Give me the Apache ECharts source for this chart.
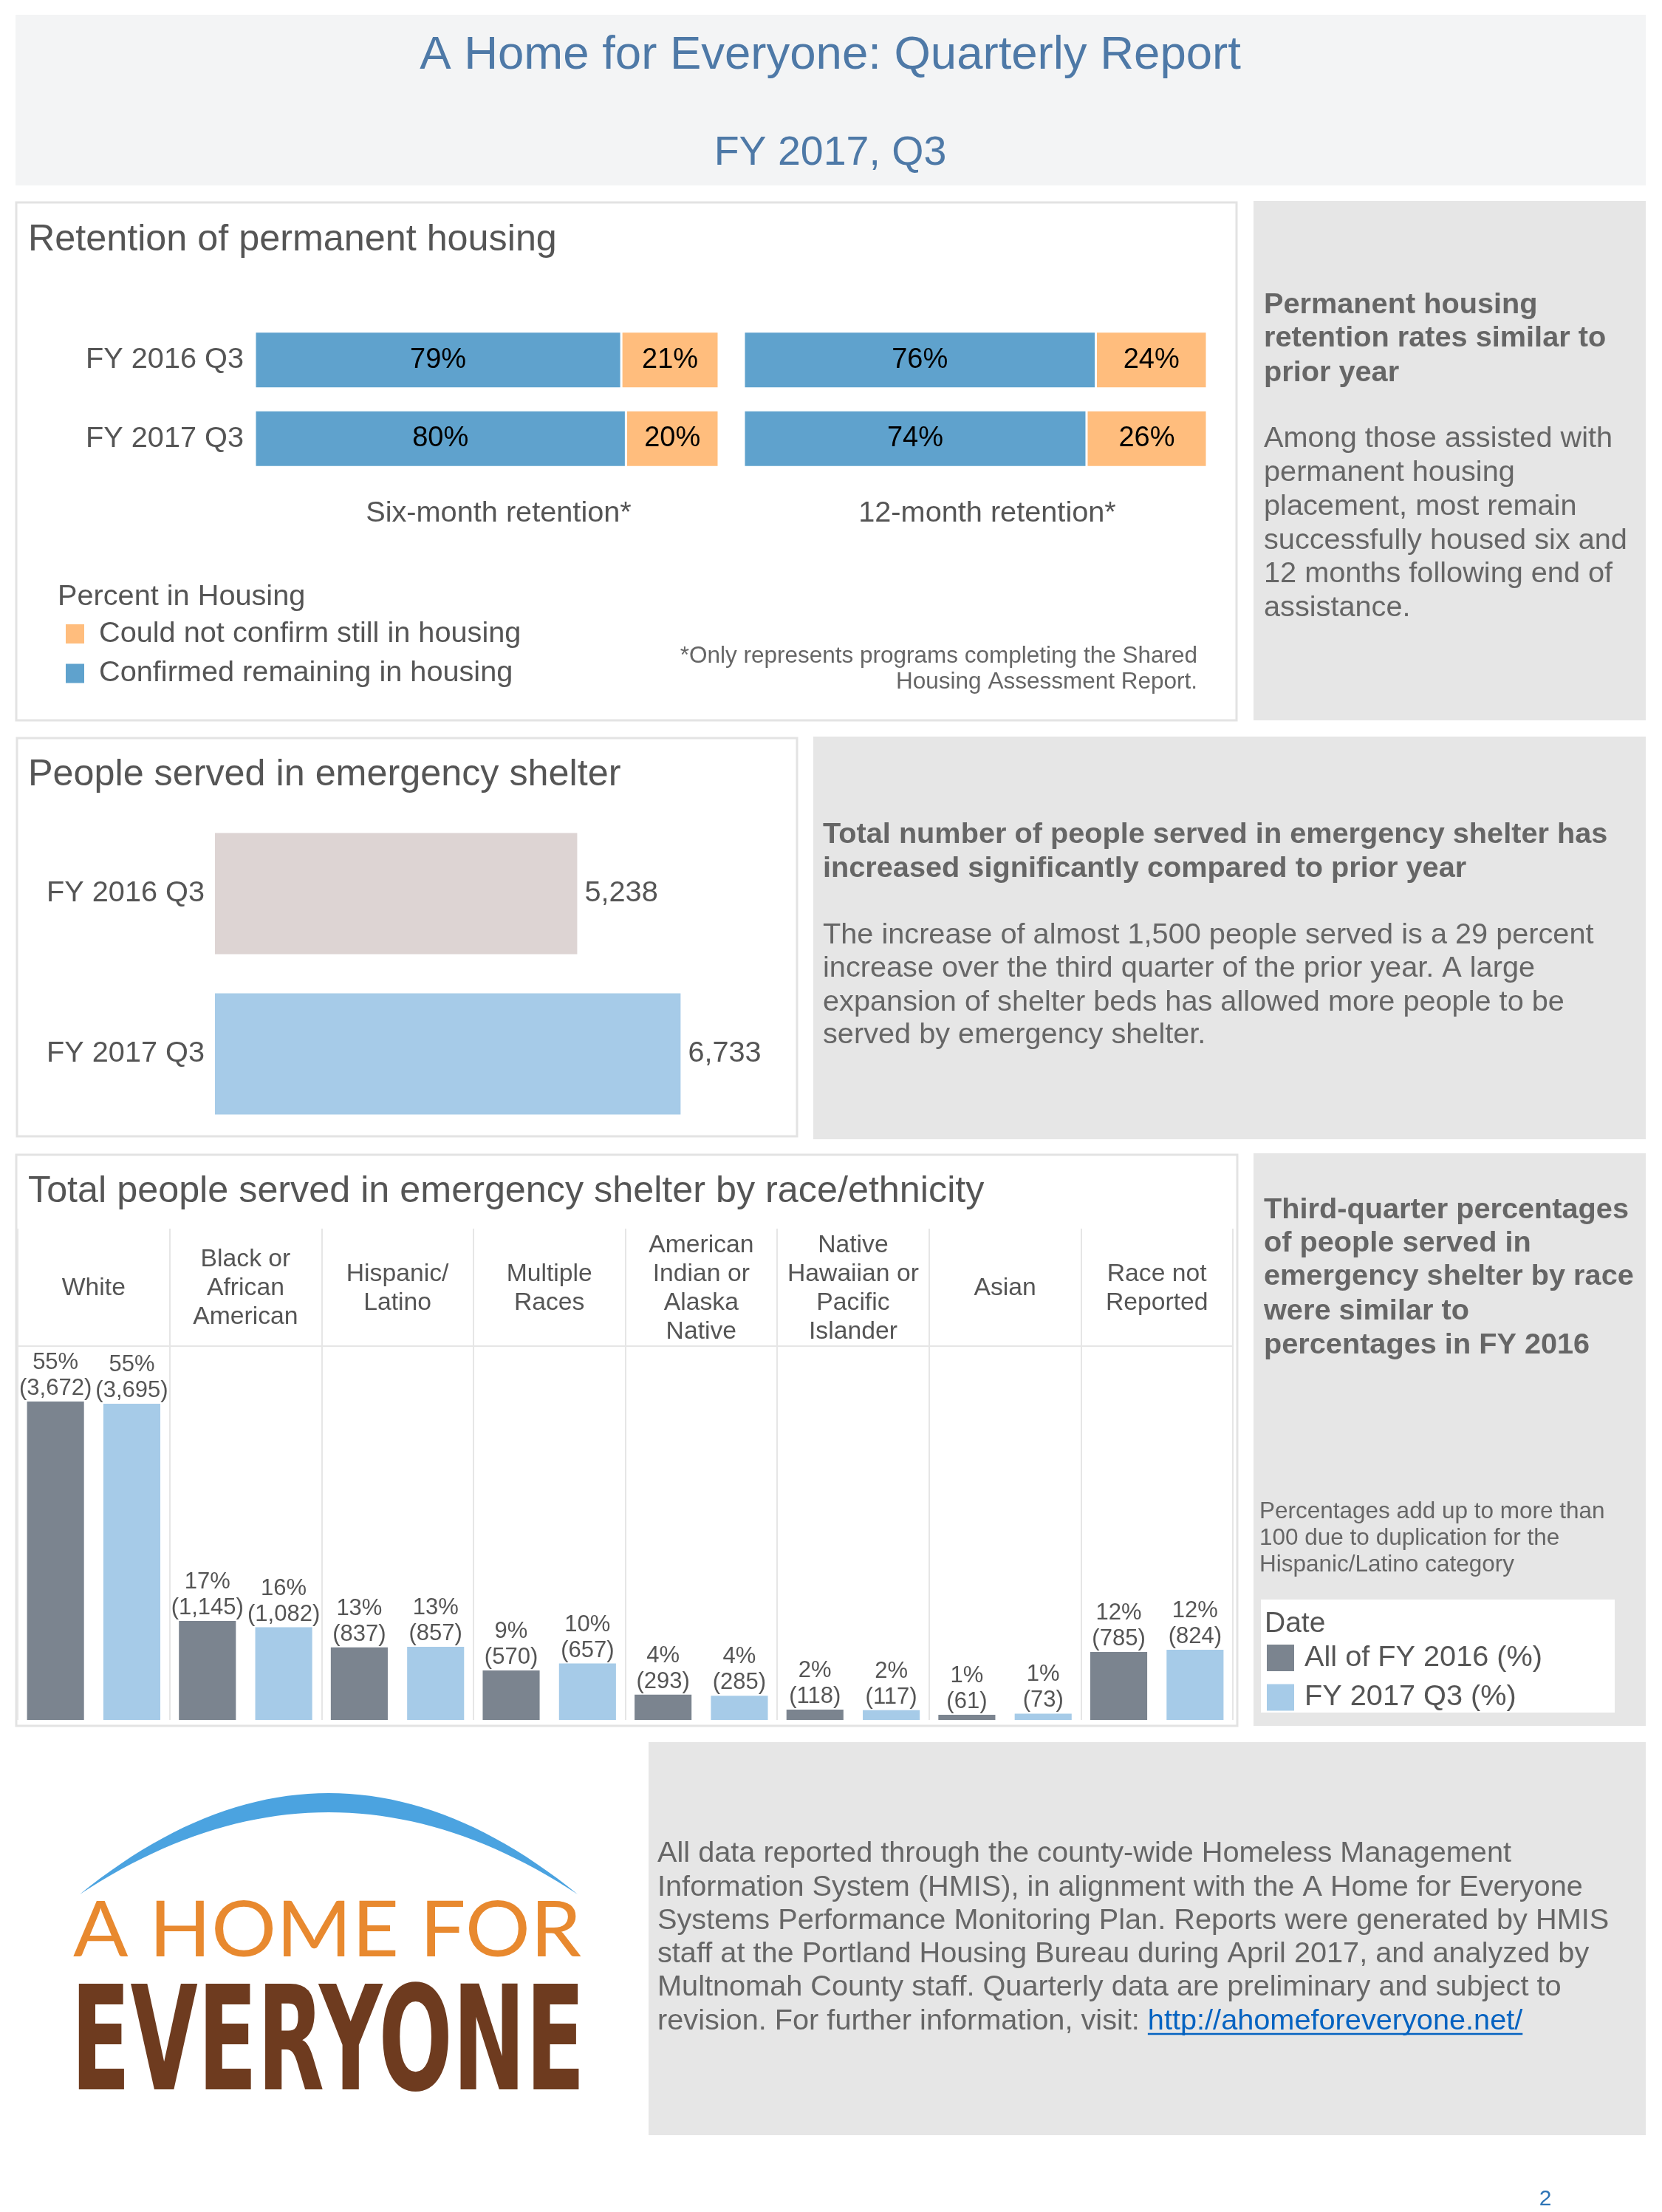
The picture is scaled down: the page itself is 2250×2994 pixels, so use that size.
<!DOCTYPE html>
<html>
<head>
<meta charset="utf-8">
<script src="https://cdn.jsdelivr.net/npm/echarts@6/dist/echarts.min.js"></script>
<style>
html,body{margin:0;padding:0;background:#fff;}
#c{width:2250px;height:2994px;}
</style>
</head>
<body>
<div id="c"></div>
<script>
// ---------- data ----------
const retentionPeriods = ['FY 2016 Q3', 'FY 2017 Q3'];
const sixMonthConfirmed = [79, 80];
const sixMonthNotConfirmed = [21, 20];
const twelveMonthConfirmed = [76, 74];
const twelveMonthNotConfirmed = [24, 26];

const shelterPeriods = ['FY 2016 Q3', 'FY 2017 Q3'];
const shelterServed = [5238, 6733];

const raceCategories = ['White', 'Black or\nAfrican\nAmerican', 'Hispanic/\nLatino', 'Multiple\nRaces',
  'American\nIndian or\nAlaska\nNative', 'Native\nHawaiian or\nPacific\nIslander', 'Asian', 'Race not\nReported'];
const fy2016Pct = [55.3, 17.2, 12.6, 8.6, 4.4, 1.8, 0.9, 11.8];
const fy2017Pct = [54.9, 16.1, 12.7, 9.8, 4.2, 1.7, 1.1, 12.2];
const fy2016Count = [3672, 1145, 837, 570, 293, 118, 61, 785];
const fy2017Count = [3695, 1082, 857, 657, 285, 117, 73, 824];

// ---------- helpers ----------
const FF = '"Liberation Sans", Arial, sans-serif';
const FS = 39.7;          // main text size
const FB = 39.7;          // bold side-text size
const C_BLUE = '#5fa2cd', C_ORANGE = '#ffbd7d';
const C_GRAY = '#7b848f', C_LBLUE = '#a6cbe8';
const measureCtx = document.createElement('canvas').getContext('2d');
function measure(s, font) { measureCtx.font = font; measureCtx.textBaseline = 'alphabetic'; return measureCtx.measureText(s).width; }
function midToBase(font) {
  measureCtx.font = font; measureCtx.textBaseline = 'middle';
  const d = measureCtx.measureText('H').actualBoundingBoxDescent;
  measureCtx.textBaseline = 'alphabetic';
  return d;
}
function txt(x, base, s, size, o) {
  o = o || {};
  const font = (o.weight || 'normal') + ' ' + size + 'px ' + (o.family || FF);
  return {
    type: 'text', z: 10,
    style: {
      text: s, x: x, y: base - 0.3 * size + 2, fill: o.color || '#666', font: font,
      align: o.align || 'left', textAlign: o.align || 'left',
      verticalAlign: 'middle', textVerticalAlign: 'middle'
    }
  };
}
function rect(x, y, w, h, fill, stroke) {
  return { type: 'rect', z: -10, shape: { x: x, y: y, width: w, height: h },
    style: { fill: fill, stroke: stroke || null, lineWidth: stroke ? 3 : 0 } };
}
function fmt(n) { return n.toLocaleString('en-US'); }

const graphics = [];
// panels
graphics.push(rect(21, 20, 2207, 231, '#f3f4f5'));
graphics.push(rect(22, 274, 1652, 701, '#fff', '#e3e3e3'));
graphics.push(rect(1697, 272, 531, 703, '#e6e6e6'));
graphics.push(rect(23, 999, 1056, 539, '#fff', '#e3e3e3'));
graphics.push(rect(1101, 997, 1127, 545, '#e6e6e6'));
graphics.push(rect(22, 1563, 1653, 773, '#fff', '#e3e3e3'));
graphics.push(rect(1697, 1561, 531, 775, '#e6e6e6'));
graphics.push(rect(1707, 2165, 479, 153, '#fff'));
graphics.push(rect(878, 2358, 1350, 532, '#e6e6e6'));

// header
graphics.push(txt(1124, 93, 'A Home for Everyone: Quarterly Report', 63.5, { align: 'center', color: '#4e79a7' }));
graphics.push(txt(1124, 222, 'FY 2017, Q3', 55.5, { align: 'center', color: '#4e79a7' }));

// titles
graphics.push(txt(38, 338, 'Retention of permanent housing', 50.3, { color: '#555' }));
graphics.push(txt(38, 1062, 'People served in emergency shelter', 50.3, { color: '#555' }));
graphics.push(txt(38, 1626, 'Total people served in emergency shelter by race/ethnicity', 50.3, { color: '#555' }));

// retention legend title + footnote
graphics.push(txt(78, 818, 'Percent in Housing', FS, { color: '#555' }));
graphics.push(txt(1621, 896, '*Only represents programs completing the Shared', 31.5, { align: 'right', color: '#666' }));
graphics.push(txt(1621, 931, 'Housing Assessment Report.', 31.5, { align: 'right', color: '#666' }));

// panel 1 text
[['Permanent housing', 423], ['retention rates similar to', 468], ['prior year', 515]].forEach(function (l) {
  graphics.push(txt(1711, l[1], l[0], FB, { weight: 'bold', color: '#666' }));
});
[['Among those assisted with', 604], ['permanent housing', 650], ['placement, most remain', 696],
 ['successfully housed six and', 742], ['12 months following end of', 787], ['assistance.', 833]].forEach(function (l) {
  graphics.push(txt(1711, l[1], l[0], FS, { color: '#666' }));
});
// panel 2 text
[['Total number of people served in emergency shelter has', 1140], ['increased significantly compared to prior year', 1186]].forEach(function (l) {
  graphics.push(txt(1114, l[1], l[0], FB, { weight: 'bold', color: '#666' }));
});
[['The increase of almost 1,500 people served is a 29 percent', 1276], ['increase over the third quarter of the prior year. A large', 1321],
 ['expansion of shelter beds has allowed more people to be', 1367], ['served by emergency shelter.', 1411]].forEach(function (l) {
  graphics.push(txt(1114, l[1], l[0], FS, { color: '#666' }));
});
// panel 3 text
[['Third-quarter percentages', 1648], ['of people served in', 1693], ['emergency shelter by race', 1738],
 ['were similar to', 1785], ['percentages in FY 2016', 1831]].forEach(function (l) {
  graphics.push(txt(1711, l[1], l[0], FB, { weight: 'bold', color: '#666' }));
});
[['Percentages add up to more than', 2054], ['100 due to duplication for the', 2090], ['Hispanic/Latino category', 2126]].forEach(function (l) {
  graphics.push(txt(1705, l[1], l[0], 31.5, { color: '#666' }));
});
graphics.push(txt(1712, 2208, 'Date', 39, { color: '#555' }));
// race header separator
graphics.push({ type: 'line', z: 5, shape: { x1: 24, y1: 1822, x2: 1669, y2: 1822 }, style: { stroke: '#e6e6e6', lineWidth: 2 } });

// footer text
const footLines = [
  ['All data reported through the county-wide Homeless Management', 2519],
  ['Information System (HMIS), in alignment with the A Home for Everyone', 2565],
  ['Systems Performance Monitoring Plan. Reports were generated by HMIS', 2610],
  ['staff at the Portland Housing Bureau during April 2017, and analyzed by', 2655],
  ['Multnomah County staff. Quarterly data are preliminary and subject to', 2700]
];
footLines.forEach(function (l) { graphics.push(txt(890, l[1], l[0], FS, { color: '#666' })); });
const lastPrefix = 'revision. For further information, visit: ';
const linkText = 'http://ahomeforeveryone.net/';
graphics.push(txt(890, 2746, lastPrefix, FS, { color: '#666' }));
const pw = measure(lastPrefix, FS + 'px ' + FF);
const lw = measure(linkText, FS + 'px ' + FF);
graphics.push(txt(890 + pw, 2746, linkText, FS, { color: '#0563c1' }));
graphics.push({ type: 'line', z: 10, shape: { x1: 890 + pw, y1: 2753, x2: 890 + pw + lw, y2: 2753 }, style: { stroke: '#0563c1', lineWidth: 2.5 } });

// page number
graphics.push(txt(2092, 2984, '2', 30, { align: 'center', color: '#2e75b6' }));

// logo arc (decorative crescent built from two quadratic curves)
(function () {
  function q(p0, c, p1, t) { return (1 - t) * (1 - t) * p0 + 2 * (1 - t) * t * c + t * t * p1; }
  const pts = [];
  const N = 48;
  for (let i = 0; i <= N; i++) { const t = i / N; pts.push([q(108, 445, 782, t), q(2564, 2290, 2564, t)]); }
  for (let i = N; i >= 0; i--) { const t = i / N; pts.push([q(108, 445, 782, t), q(2564, 2342, 2564, t)]); }
  graphics.push({ type: 'polygon', z: 10, shape: { points: pts }, style: { fill: '#4ba3e0' } });
})();
(function () {
  function logoText(s, fam, weight, left, right, capTop, base, color) {
    const probe = weight + ' 100px ' + fam;
    measureCtx.font = probe; measureCtx.textBaseline = 'alphabetic';
    const capRatio = measureCtx.measureText('E').actualBoundingBoxAscent / 100;
    const size = (base - capTop) / capRatio;
    const font = weight + ' ' + size + 'px ' + fam;
    const w = measure(s, font);
    const d = midToBase(font);
    graphics.push({ type: 'text', z: 10, x: left, y: base - d, scaleX: (right - left) / w, originX: 0, originY: 0,
      style: { text: s, x: 0, y: 0, font: font, fill: color, align: 'left', textAlign: 'left', verticalAlign: 'middle', textVerticalAlign: 'middle' } });
  }
  logoText('A HOME FOR', 'Lato, "Liberation Sans", sans-serif', 'normal', 99, 787, 2573, 2648, '#e8892f');
  logoText('EVERYONE', '"DejaVu Sans Condensed", "DejaVu Sans", sans-serif', 'bold', 96, 792, 2685, 2828, '#6e3b1f');
})();

// ---------- chart option ----------
const hiddenValue = function (gi, max, name) {
  return {
    type: 'value', gridIndex: gi, min: 0, max: max,
    axisLine: { show: false }, axisTick: { show: false }, axisLabel: { show: false }, splitLine: { show: false },
    name: name || '', nameLocation: 'middle', nameGap: 28,
    nameTextStyle: { fontSize: FS, color: '#555', fontFamily: FF, padding: [0, 0, 0, 32] }
  };
};
const retLabel = { show: true, position: 'inside', formatter: '{c}%', color: '#000', fontSize: 38, fontFamily: FF };
const retBar = function (name, gi, stack, data, color) {
  return { type: 'bar', name: name, xAxisIndex: gi, yAxisIndex: gi, stack: stack, data: data, barWidth: 77,
    itemStyle: { color: color, borderColor: '#fff', borderWidth: 1.5 }, label: retLabel, silent: true };
};

const option = {
  animation: false,
  textStyle: { fontFamily: FF },
  graphic: { elements: graphics },
  legend: [
    { data: ['Could not confirm still in housing', 'Confirmed remaining in housing'], orient: 'vertical',
      left: 87, top: 838, padding: 0, itemWidth: 27, itemHeight: 28, itemGap: 13.5, icon: 'rect', selectedMode: false,
      textStyle: { fontSize: FS, color: '#555', fontFamily: FF, padding: [0, 0, 0, 14] } },
    { data: ['All of FY 2016 (%)', 'FY 2017 Q3 (%)'], orient: 'vertical',
      left: 1715, top: 2224, padding: 0, itemWidth: 37, itemHeight: 36, itemGap: 13.5, icon: 'rect', selectedMode: false,
      textStyle: { fontSize: FS, color: '#555', fontFamily: FF, padding: [0, 0, 0, 9] } }
  ],
  grid: [
    { left: 345, top: 434, width: 628, height: 213 },
    { left: 1007, top: 434, width: 627, height: 213 },
    { left: 291, top: 1101, width: 749, height: 434 },
    { left: 24, top: 1663, width: 1645, height: 665 }
  ],
  xAxis: [
    hiddenValue(0, 100, 'Six-month retention*'),
    hiddenValue(1, 100, '12-month retention*'),
    hiddenValue(2, 8000),
    { type: 'category', gridIndex: 3, position: 'top', data: raceCategories,
      axisLine: { show: false }, axisTick: { show: false },
      axisLabel: { inside: true, margin: 81, verticalAlign: 'middle', interval: 0, fontSize: 33.7, lineHeight: 39, color: '#555', fontFamily: FF },
      splitLine: { show: true, interval: 0, lineStyle: { color: '#e6e6e6', width: 2 } } }
  ],
  yAxis: [
    { type: 'category', gridIndex: 0, inverse: true, data: retentionPeriods,
      axisLine: { show: false }, axisTick: { show: false },
      axisLabel: { margin: 15, fontSize: FS, color: '#555', fontFamily: FF } },
    { type: 'category', gridIndex: 1, inverse: true, data: retentionPeriods,
      axisLine: { show: false }, axisTick: { show: false }, axisLabel: { show: false } },
    { type: 'category', gridIndex: 2, inverse: true, data: shelterPeriods,
      axisLine: { show: false }, axisTick: { show: false },
      axisLabel: { margin: 14, fontSize: FS, color: '#555', fontFamily: FF } },
    { type: 'value', gridIndex: 3, min: 0, max: 85.3, show: false, splitLine: { show: false } }
  ],
  series: [
    retBar('Confirmed remaining in housing', 0, 'six', sixMonthConfirmed, C_BLUE),
    retBar('Could not confirm still in housing', 0, 'six', sixMonthNotConfirmed, C_ORANGE),
    retBar('Confirmed remaining in housing', 1, 'twelve', twelveMonthConfirmed, C_BLUE),
    retBar('Could not confirm still in housing', 1, 'twelve', twelveMonthNotConfirmed, C_ORANGE),
    { type: 'bar', name: 'People served', xAxisIndex: 2, yAxisIndex: 2, barWidth: 164, silent: true,
      data: shelterServed.map(function (v, i) { return { value: v, itemStyle: { color: i === 0 ? '#ddd4d3' : '#a6cbe8' } }; }),
      label: { show: true, position: 'right', distance: 10, fontSize: FS, color: '#555', fontFamily: FF,
        formatter: function (p) { return fmt(p.value); } } },
    { type: 'bar', name: 'All of FY 2016 (%)', xAxisIndex: 3, yAxisIndex: 3, data: fy2016Pct,
      barWidth: '37.5%', barGap: '34%', itemStyle: { color: C_GRAY }, silent: true,
      label: { show: true, position: 'top', distance: 0, fontSize: 31, lineHeight: 35, color: '#555', fontFamily: FF,
        formatter: function (p) { return Math.round(p.value) + '%\n(' + fmt(fy2016Count[p.dataIndex]) + ')'; } } },
    { type: 'bar', name: 'FY 2017 Q3 (%)', xAxisIndex: 3, yAxisIndex: 3, data: fy2017Pct,
      barWidth: '37.5%', barGap: '34%', itemStyle: { color: C_LBLUE }, silent: true,
      label: { show: true, position: 'top', distance: 0, fontSize: 31, lineHeight: 35, color: '#555', fontFamily: FF,
        formatter: function (p) { return Math.round(p.value) + '%\n(' + fmt(fy2017Count[p.dataIndex]) + ')'; } } }
  ]
};

const chart = echarts.init(document.getElementById('c'), null, { renderer: 'canvas' });
chart.setOption(option);
</script>
</body>
</html>
